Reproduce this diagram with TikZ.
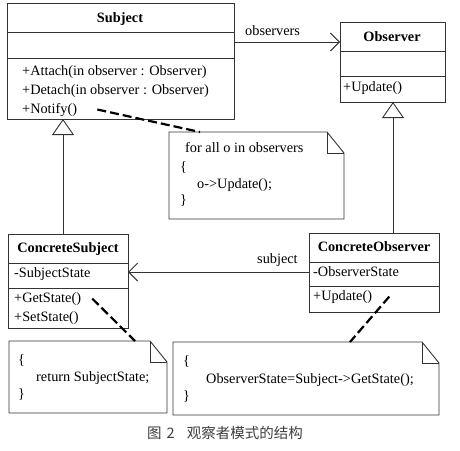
\documentclass[tikz,border=0pt]{standalone}
\usepackage{fontspec}
\setmainfont{Liberation Serif}
\newfontfamily\cjk{Noto Sans CJK SC}
\usetikzlibrary{arrows.meta}

% dog-eared note outline round a named node
\newcommand{\drawnote}[1]{%
  \draw[fold] (#1.north west) -- ([xshift=-17pt]#1.north east)
    -- ([yshift=-21pt]#1.north east) -- (#1.south east) -- (#1.south west) -- cycle;
  \draw[fold] ([xshift=-17pt]#1.north east) |- ([yshift=-21pt]#1.north east);}

\begin{document}
\begin{tikzpicture}[x=1pt, y=-1pt,
  cls/.style={draw=black!80, line width=0.9pt, anchor=north west, inner sep=0pt, outer sep=0pt},
  sepline/.style={draw=black!80, line width=0.9pt},
  txt/.style={anchor=base west, inner sep=0pt, font=\fontsize{14.3}{17}\selectfont},
  ttl/.style={anchor=base, inner sep=0pt, font=\bfseries\fontsize{14.3}{17}\selectfont},
  notebox/.style={anchor=north west, inner sep=0pt, outer sep=0pt},
  fold/.style={draw=black!80, line width=0.9pt, line join=miter},
  inherit/.style={draw=black!80, line width=0.9pt, -{Triangle[open, width=22pt, length=16pt]}},
  assoc/.style={draw=black!80, line width=0.9pt, -{Straight Barb[width=18pt, length=9pt]}},
  dep/.style={line width=2.2pt, dash pattern=on 9pt off 4pt}]
  \useasboundingbox[fill=white] (0,0) rectangle (460,450);

  % classes
  \node[cls, minimum width=227pt, minimum height=116pt] (subj) at (7,3) {};
  \draw[sepline] (subj.west |- 0,32) -- (subj.east |- 0,32);
  \draw[sepline] (subj.west |- 0,58) -- (subj.east |- 0,58);
  \node[ttl] (subjname) at (120,22) {Subject};
  \node[txt] (attach) at (22,75) {+Attach(in observer : Observer)};
  \node[txt] (detach) at (22,94) {+Detach(in observer : Observer)};
  \node[txt] (notify) at (22,113) {+Notify()};

  \node[cls, minimum width=105pt, minimum height=80pt] (obs) at (340,22) {};
  \draw[sepline] (obs.west |- 0,51) -- (obs.east |- 0,51);
  \draw[sepline] (obs.west |- 0,76) -- (obs.east |- 0,76);
  \node[ttl] (obsname) at (392,41) {Observer};
  \node[txt] (oupd) at (343,91) {+Update()};

  \node[cls, minimum width=120pt, minimum height=94pt] (csubj) at (8,234) {};
  \draw[sepline] (csubj.west |- 0,263) -- (csubj.east |- 0,263);
  \draw[sepline] (csubj.west |- 0,288) -- (csubj.east |- 0,288);
  \node[ttl] (csubjname) at (68,252) {ConcreteSubject};
  \node[txt] (sstate) at (14,277) {-SubjectState};
  \node[txt] (getst) at (14,302) {+GetState()};
  \node[txt] (setst) at (14,321) {+SetState()};

  \node[cls, minimum width=130pt, minimum height=79pt] (cobs) at (309,233) {};
  \draw[sepline] (cobs.west |- 0,262) -- (cobs.east |- 0,262);
  \draw[sepline] (cobs.west |- 0,286) -- (cobs.east |- 0,286);
  \node[ttl] (cobsname) at (374,251) {ConcreteObserver};
  \node[txt] (ostate) at (313,276) {-ObserverState};
  \node[txt] (cupd) at (313,300) {+Update()};

  % notes
  \node[notebox, minimum width=175pt, minimum height=87pt] (note1) at (169,132) {};
  \drawnote{note1}
  \node[txt] (n1a) at (185,152) {for all o in observers};
  \node[txt] (n1b) at (180,171) {\{};
  \node[txt] (n1c) at (197,188) {o->Update();};
  \node[txt] (n1d) at (180,204) {\}};

  \node[notebox, minimum width=158pt, minimum height=72pt] (note2) at (9,341) {};
  \drawnote{note2}
  \node[txt] (n2a) at (18,364) {\{};
  \node[txt] (n2b) at (36,381) {return SubjectState;};
  \node[txt] (n2c) at (18,398) {\}};

  \node[notebox, minimum width=266pt, minimum height=73pt] (note3) at (173,342) {};
  \drawnote{note3}
  \node[txt] (n3a) at (183,365) {\{};
  \node[txt] (n3b) at (206,383) {ObserverState=Subject->GetState();};
  \node[txt] (n3c) at (183,400) {\}};

  % relations
  \draw[assoc] (subj.east |- 0,42) -- (obs.west |- 0,42);
  \node[txt] (lobs) at (245,35) {observers};
  \draw[assoc] (cobs.west |- 0,272) -- (csubj.east |- 0,272);
  \node[txt] (lsubj) at (257,263) {subject};
  \draw[inherit] (csubj.north -| 63,0) -- (subj.south -| 63,0);
  \draw[inherit] (cobs.north -| 393,0) -- (obs.south -| 393,0);

  \draw[dep] ([xshift=20pt]notify.east) -- ([xshift=31pt]note1.north west);
  \draw[dep] ([xshift=11pt]getst.east) -- ([xshift=126pt]note2.north west);
  \draw[dep] ([xshift=17pt]cupd.east) -- ([xshift=177pt]note3.north west);

  % caption
  \node[anchor=base, inner sep=0pt, text=black!75, font=\cjk\fontsize{14.5}{17}\selectfont]
    (cap) at (225,438) {图\hspace{5pt}2\hspace{12pt}观察者模式的结构};
\end{tikzpicture}
\end{document}
